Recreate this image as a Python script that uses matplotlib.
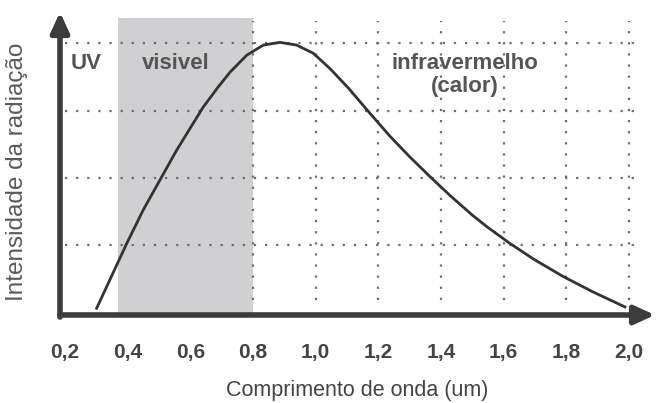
import matplotlib.pyplot as plt

# Curve (wavelength in um, relative intensity)
wavelength = [0.301, 0.344, 0.397, 0.450, 0.503, 0.556, 0.609, 0.641, 0.689,
              0.727, 0.780, 0.833, 0.886, 0.939, 0.992, 1.046, 1.105, 1.173,
              1.237, 1.301, 1.365, 1.429, 1.500, 1.546, 1.620, 1.695, 1.790,
              1.886, 1.987]
intensity = [0.07, 0.50, 1.03, 1.53, 1.97, 2.41, 2.81, 3.05, 3.35,
             3.57, 3.82, 3.97, 4.01, 3.97, 3.85, 3.62, 3.33, 2.96,
             2.62, 2.31, 2.02, 1.74, 1.45, 1.28, 1.03, 0.80, 0.54,
             0.31, 0.09]

xticks = [0.2, 0.4, 0.6, 0.8, 1.0, 1.2, 1.4, 1.6, 1.8, 2.0]
xtick_labels = ['0,2', '0,4', '0,6', '0,8', '1,0', '1,2', '1,4', '1,6', '1,8', '2,0']
vgrid = [0.8, 1.0, 1.2, 1.4, 1.6, 1.8, 2.0]
hgrid = [1, 2, 3, 4]
visible_band = (0.369, 0.8)

C_AXIS = '#3c3c3c'
C_TEXT = '#555555'
C_GRID = '#6e6e6e'
FONT = ['Liberation Sans', 'DejaVu Sans']

fig = plt.figure(figsize=(6.57, 4.03), dpi=100)
ax = fig.add_axes([60 / 657, 88 / 403, 595 / 657, 303 / 403])
ax.set_xlim(0.184, 2.083)
ax.set_ylim(-0.03, 4.46)
for s in ax.spines.values():
    s.set_visible(False)

# visible band
ax.axvspan(visible_band[0], visible_band[1], ymin=0, ymax=(4.37 + 0.03) / 4.49,
           color='#d0d0d2', lw=0, zorder=0)

# dotted grid
for gx in vgrid:
    ax.plot([gx, gx], [0.19, 4.32], color=C_GRID, lw=1.6,
            linestyle=(0, (1, 4)), zorder=1)
for gy in hgrid:
    ax.plot([0.2, 2.04], [gy, gy], color=C_GRID, lw=1.6,
            linestyle=(0, (1, 4)), zorder=1)

# the curve
ax.plot(wavelength, intensity, color='#333333', lw=2, zorder=3,
        solid_joinstyle='round')

# arrow axes
ax.annotate('', xy=(2.083, -0.03), xytext=(0.184, -0.03),
            arrowprops=dict(arrowstyle='-|>,head_length=1.2,head_width=0.55',
                            color=C_AXIS, lw=4, shrinkA=0, shrinkB=0),
            annotation_clip=False, zorder=4)
ax.annotate('', xy=(0.184, 4.46), xytext=(0.184, -0.06),
            arrowprops=dict(arrowstyle='-|>,head_length=1.2,head_width=0.55',
                            color=C_AXIS, lw=4, shrinkA=0, shrinkB=0),
            annotation_clip=False, zorder=4)

# ticks
ax.set_yticks([])
ax.set_xticks(xticks)
ax.set_xticklabels(xtick_labels, fontsize=15, fontweight='bold',
                   color='#444444', family=FONT)
ax.tick_params(axis='x', length=0, pad=20)

ax.set_xlabel('Comprimento de onda (um)', fontsize=15.5, color='#444444',
              family=FONT, labelpad=13)
fig.text(17 / 657, 1 - 172 / 403, 'Intensidade da radiação', rotation=90,
         ha='center', va='center', fontsize=17.5, color='#5a5a5a', family=FONT)

# region labels
ax.text(0.268, 3.70, 'UV', ha='center', va='center', fontsize=16,
        fontweight='bold', color=C_TEXT, family=FONT)
ax.text(0.555, 3.70, 'visivel', ha='center', va='center', fontsize=16,
        fontweight='bold', color=C_TEXT, family=FONT)
ax.text(1.476, 3.70, 'infravermelho', ha='center', va='center', fontsize=16,
        fontweight='bold', color=C_TEXT, family=FONT)
ax.text(1.476, 3.36, '(calor)', ha='center', va='center', fontsize=16,
        fontweight='bold', color=C_TEXT, family=FONT)

fig.savefig('out.png', dpi=100, facecolor='white')
